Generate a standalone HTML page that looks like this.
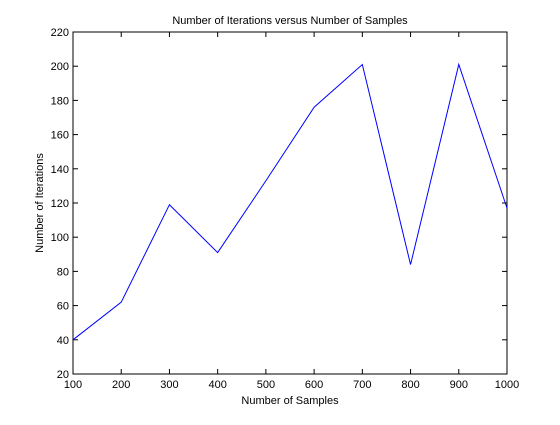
<!DOCTYPE html>
<html><head><meta charset="utf-8"><style>
body{margin:0;background:#fff;width:560px;height:420px;overflow:hidden}
text{font-family:"Liberation Sans",sans-serif;font-size:11px;fill:#000}
</style></head><body>
<svg width="560" height="420">
<rect width="560" height="420" fill="#fff"/>
<g id="plot"></g>
</svg>
<script>
const samples=[100,200,300,400,500,600,700,800,900,1000];
const iterations=[40,62,119,91,133,176,201,84,201,117];
const xTicks=[100,200,300,400,500,600,700,800,900,1000];
const yTicks=[20,40,60,80,100,120,140,160,180,200,220];
const L=73,R=507,T=32,B=374;
const sx=v=>L+(v-100)/900*(R-L);
const sy=v=>B-(v-20)/200*(B-T);
const NS='http://www.w3.org/2000/svg';
const g=document.getElementById('plot');
function mk(t,a,p){const e=document.createElementNS(NS,t);for(const k in a)e.setAttribute(k,a[k]);(p||g).appendChild(e);return e;}
const box=mk('rect',{x:L,y:T,width:R-L,height:B-T,fill:'#fff',stroke:'#000','stroke-width':1});


xTicks.forEach(v=>{const x=sx(v);
mk('line',{x1:x,x2:x,y1:B,y2:B-5,stroke:'#000'});mk('line',{x1:x,x2:x,y1:T,y2:T+5,stroke:'#000'});
const t=mk('text',{x:x,y:B+14,'text-anchor':'middle'});t.textContent=v;

});
yTicks.forEach(v=>{const y=sy(v);
mk('line',{x1:L,x2:L+5,y1:y,y2:y,stroke:'#000'});mk('line',{x1:R,x2:R-5,y1:y,y2:y,stroke:'#000'});
const t=mk('text',{x:L-4,y:y+4,'text-anchor':'end'});t.textContent=v;

});
const pts=samples.map((s,i)=>sx(s)+','+sy(iterations[i])).join(' ');
const line=mk('polyline',{points:pts,fill:'none',stroke:'#0000ff','stroke-width':1});


let t=mk('text',{x:(L+R)/2,y:24,'text-anchor':'middle'});t.textContent='Number of Iterations versus Number of Samples';


t=mk('text',{x:(L+R)/2,y:404,'text-anchor':'middle'});t.textContent='Number of Samples';


t=mk('text',{x:0,y:0,'text-anchor':'middle',transform:'translate(43,'+((T+B)/2)+') rotate(-90)'});t.textContent='Number of Iterations';


</script>
</body></html>
